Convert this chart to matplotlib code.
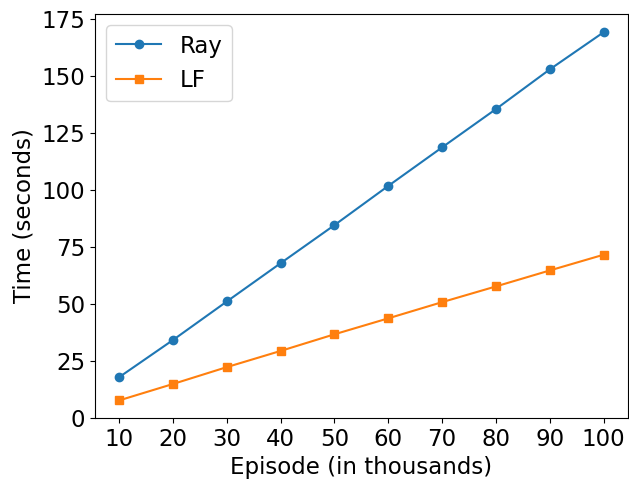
import matplotlib
matplotlib.use("Agg")
import matplotlib.pyplot as plt

episodes = [10, 20, 30, 40, 50, 60, 70, 80, 90, 100]
ray_time = [18.0, 34.3, 51.2, 68.0, 84.7, 101.9, 118.8, 135.6, 153.0, 169.3]
lf_time = [7.8, 15.0, 22.4, 29.5, 36.8, 43.8, 50.9, 57.8, 64.8, 71.7]

plt.rcParams["font.size"] = 16.5

fig, ax = plt.subplots(figsize=(6.29, 4.79), dpi=100)
ax.plot(episodes, ray_time, marker="o", label="Ray")
ax.plot(episodes, lf_time, marker="s", label="LF")
ax.set_xticks(episodes)
ax.set_ylim(bottom=0)
ax.set_xlabel("Episode (in thousands)")
ax.set_ylabel("Time (seconds)")
ax.legend(loc="upper left")

fig.subplots_adjust(left=0.151, right=0.998, top=0.971, bottom=0.127)
fig.savefig("out.png", dpi=100, facecolor="white")
